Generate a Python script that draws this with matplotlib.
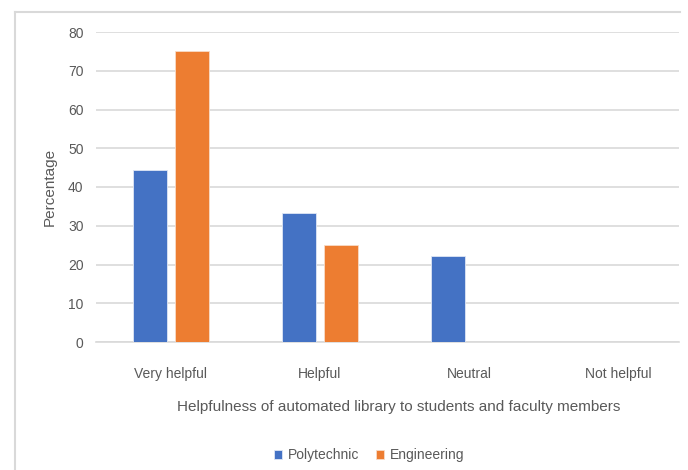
import numpy as np
import matplotlib
matplotlib.use("Agg")
import matplotlib.pyplot as plt
from matplotlib.lines import Line2D

categories = ["Very helpful", "Helpful", "Neutral", "Not helpful"]
polytechnic = [44.4, 33.3, 22.2, 0]
engineering = [75, 25, 0, 0]
y_ticks = [0, 10, 20, 30, 40, 50, 60, 70, 80]

plt.rcParams['font.family'] = ['Liberation Sans', 'DejaVu Sans']

fig = plt.figure(figsize=(6.88, 4.70), dpi=100)
ax = fig.add_axes([96/688, 1 - 342/470, (679 - 96)/688, (342 - 32)/470])

x = np.arange(len(categories))
w = 0.228
off = 0.143
ax.bar(x - off, polytechnic, w, color='#4472C4', edgecolor='#dfe6f5', linewidth=0.6,
       label='Polytechnic', zorder=3)
ax.bar(x + off, engineering, w, color='#ED7D31', edgecolor='#f8dcc8', linewidth=0.6,
       label='Engineering', zorder=3)

ax.set_xlim(-0.503, 3.409)
ax.set_ylim(0, 80)
ax.set_yticks(y_ticks)
ax.set_xticks(x)
ax.set_xticklabels(categories)
ax.grid(axis='y', color='#D9D9D9', linewidth=1.2, zorder=0)
ax.set_axisbelow(True)
for s in ['top', 'right', 'left']:
    ax.spines[s].set_visible(False)
ax.spines['bottom'].set_color('#D9D9D9')
ax.spines['bottom'].set_linewidth(1.2)
ax.tick_params(axis='both', length=0, colors='#595959', labelsize=10)
ax.tick_params(axis='x', pad=18)
ax.tick_params(axis='y', pad=9)

ax.set_xlabel("Helpfulness of automated library to students and faculty members",
              fontsize=11, color='#595959')
ax.xaxis.set_label_coords(0.52, -0.187)
ax.set_ylabel("Percentage", fontsize=11, color='#595959', labelpad=8)

leg = fig.legend(loc='center', bbox_to_anchor=(369/688, 1 - 455/470), ncol=2,
                 frameon=False, fontsize=10, handlelength=0.6, handleheight=0.6,
                 handletextpad=0.4, columnspacing=1.2)
for t in leg.get_texts():
    t.set_color('#595959')

# outer chart border
fig.add_artist(Line2D([15/688, 15/688], [0, 1 - 12/470], color='#D9D9D9', linewidth=1.5))
fig.add_artist(Line2D([15/688, 680/688], [1 - 12/470, 1 - 12/470], color='#D9D9D9', linewidth=1.5))

fig.savefig('out.png', dpi=100)
